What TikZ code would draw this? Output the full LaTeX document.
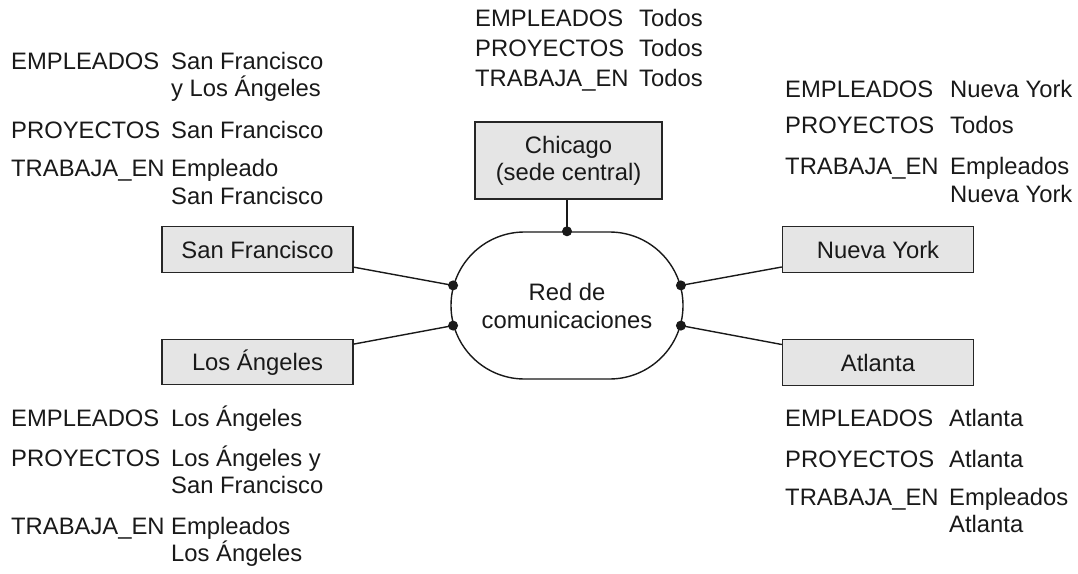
\documentclass[tikz,border=0pt]{standalone}
\usepackage{fontspec}
\setmainfont{Liberation Sans}
\usetikzlibrary{shapes.misc}
\begin{document}
\begin{tikzpicture}[x=1pt,y=-1pt,
  txt/.style={anchor=base west, inner sep=0pt, text=black!90, font=\fontsize{23.8}{27}\selectfont},
  box/.style={draw=black!85, fill=black!10, line width=1.4pt, minimum width=191pt, minimum height=45.5pt, inner sep=0pt, text height=17pt, text depth=0pt, text=black!90, font=\fontsize{23.8}{27}\selectfont},
  conn/.style={draw=black!90, line width=1.4pt},
  dot/.style={fill=black!90}]
\useasboundingbox (0,0) rectangle (1078,573);

% central network
\node[draw=black!90, line width=1.4pt, rounded rectangle, minimum width=232pt, minimum height=147pt, inner sep=0pt, align=center, text=black!90, font=\fontsize{23.8}{28}\selectfont] (net) at (567,305.5) {Red de\\comunicaciones};

% sites
\node[box] (sf) at (257.5,249.5) {San Francisco};
\node[box] (la) at (257.5,362) {Los Ángeles};
\node[box] (ny) at (878,249.5) {Nueva York};
\node[box] (at) at (878,362.5) {Atlanta};
\node[draw=black!85, fill=black!10, line width=1.4pt, minimum width=187pt, minimum height=77pt, inner sep=0pt, align=center, text=black!90, font=\fontsize{23.8}{27}\selectfont] (chi) at (568.5,160.5) {Chicago\\(sede central)};

% connectors
\draw[conn] (net.170) -- (sf);
\draw[conn] (net.190) -- (la);
\draw[conn] (net.10) -- (ny);
\draw[conn] (net.350) -- (at);
\draw[conn] (net.north) -- (net.north |- chi.south);
\foreach \a in {170,190,10,350,90} \fill[dot] (net.\a) circle[radius=5pt];

% top left block
\node[txt] (tl1) at (11,69) {EMPLEADOS};
\node[txt] (tl1v) at (171,69) {San Francisco};
\node[txt] (tl1w) at (171,96) {y Los Ángeles};
\node[txt] (tl2) at (11,138) {PROYECTOS};
\node[txt] (tl2v) at (171,138) {San Francisco};
\node[txt] (tl3) at (11,176.5) {TRABAJA\_EN};
\node[txt] (tl3v) at (171,176.5) {Empleado};
\node[txt] (tl3w) at (171,204) {San Francisco};

% top centre block
\node[txt] (tc1) at (475,26) {EMPLEADOS};
\node[txt] (tc1v) at (639,26) {Todos};
\node[txt] (tc2) at (475,56) {PROYECTOS};
\node[txt] (tc2v) at (639,56) {Todos};
\node[txt] (tc3) at (475,86) {TRABAJA\_EN};
\node[txt] (tc3v) at (639,86) {Todos};

% top right block
\node[txt] (tr1) at (785,97) {EMPLEADOS};
\node[txt] (tr1v) at (950,97) {Nueva York};
\node[txt] (tr2) at (785,133) {PROYECTOS};
\node[txt] (tr2v) at (950,133) {Todos};
\node[txt] (tr3) at (785,174) {TRABAJA\_EN};
\node[txt] (tr3v) at (950,174) {Empleados};
\node[txt] (tr3w) at (950,202) {Nueva York};

% bottom left block
\node[txt] (bl1) at (11,426.5) {EMPLEADOS};
\node[txt] (bl1v) at (171,426.5) {Los Ángeles};
\node[txt] (bl2) at (11,466) {PROYECTOS};
\node[txt] (bl2v) at (171,466) {Los Ángeles y};
\node[txt] (bl2w) at (171,493) {San Francisco};
\node[txt] (bl3) at (11,534) {TRABAJA\_EN};
\node[txt] (bl3v) at (171,534) {Empleados};
\node[txt] (bl3w) at (171,561.5) {Los Ángeles};

% bottom right block
\node[txt] (br1) at (785,426) {EMPLEADOS};
\node[txt] (br1v) at (949,426) {Atlanta};
\node[txt] (br2) at (785,467) {PROYECTOS};
\node[txt] (br2v) at (949,467) {Atlanta};
\node[txt] (br3) at (785,505) {TRABAJA\_EN};
\node[txt] (br3v) at (949,505) {Empleados};
\node[txt] (br3w) at (949,532.5) {Atlanta};
\end{tikzpicture}
\end{document}
